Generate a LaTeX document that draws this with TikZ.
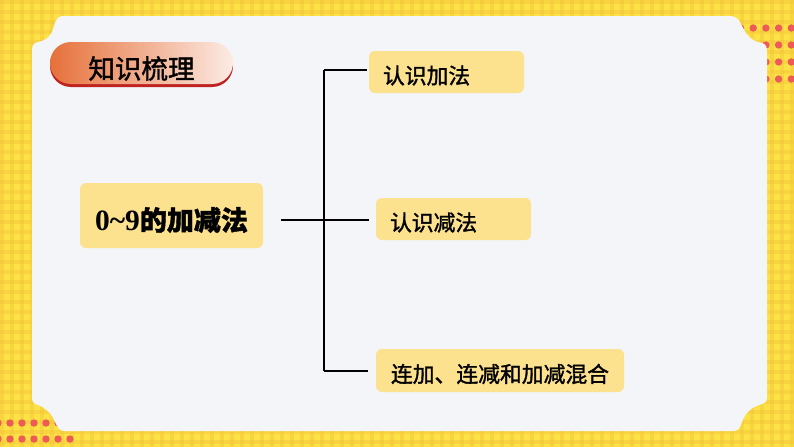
\documentclass[tikz,border=0pt]{standalone}
\usepackage{fontspec}
\newfontfamily\cjk{Noto Sans CJK SC}
\newfontfamily\cjkb{Noto Sans CJK SC}[FakeBold=1.5]
\newfontfamily\serifb{Liberation Serif}
\usetikzlibrary{calc}
\definecolor{bgyellow}{HTML}{FCE245}
\definecolor{bandyellow}{HTML}{F2C43A}
\definecolor{dotred}{HTML}{EE5A55}
\definecolor{panelgray}{HTML}{F4F5F8}
\definecolor{nodeyellow}{HTML}{FCE18F}
\definecolor{hdrorange}{HTML}{E6713A}
\definecolor{hdrlight}{HTML}{FCEBE4}
\definecolor{hdrshadow}{HTML}{BE2320}
\newcommand\dropt[2]{\raisebox{-#1}[\height][\depth]{#2}}
\tikzset{
  box/.style={fill=nodeyellow, rounded corners=6pt, inner sep=0pt, anchor=center},
  mainbox/.style={box, minimum width=183pt, minimum height=65pt},
  leftbox/.style={box, minimum height=42pt, text width=127pt, inner xsep=14pt, align=left},
  widebox/.style={box, minimum height=43pt, minimum width=248pt},
  hdrbox/.style={rounded corners=21pt, minimum width=183pt, minimum height=42pt, inner sep=0pt,
    left color=hdrorange, right color=hdrlight,
    preaction={fill=hdrshadow, transform canvas={yshift=-3pt}}},
  conn/.style={draw=black, line width=1.6pt},
  reddot/.style={fill=dotred},
}
\begin{document}
\begin{tikzpicture}[x=1pt,y=-1pt]
\useasboundingbox (0,0) rectangle (794,447);
% background
\fill[bgyellow] (0,0) rectangle (794,447);
\foreach \i in {0,10,...,790} {
  \fill[bandyellow, opacity=0.45] (\i,0) rectangle ++(4,447);
}
\foreach \j in {0,10,...,440} {
  \fill[bandyellow, opacity=0.45] (0,\j) rectangle ++(794,4);
}
% red dots
\foreach \x in {715.1,727.8,740.5,753.2,765.9,778.6,791.3} {
  \foreach \y in {28,45,62,79} {
    \fill[reddot] (\x,\y) circle (3.7pt);
  }
}
\foreach \x in {-2,10,22,34,46,58,70} {
  \foreach \y in {423,439} {
    \fill[reddot] (\x,\y) circle (3.7pt);
  }
}
% panel
\fill[panelgray] (62,16) -- (730,16)
  .. controls (740,16) and (741,26) .. (746,33)
  .. controls (751,40) and (756,42) .. (762,43)
  .. controls (766,44) and (767,47) .. (767,52)
  -- (767,398)
  .. controls (767,402) and (764,404) .. (759,405)
  .. controls (750,408) and (745,414) .. (742,422)
  .. controls (740,428) and (738,431) .. (734,431)
  -- (64,431)
  .. controls (60,431) and (58,428) .. (55,422)
  .. controls (52,414) and (46,408) .. (38,405)
  .. controls (34,404) and (32,402) .. (32,398)
  -- (32,50)
  .. controls (32,45) and (34,43) .. (38,42)
  .. controls (44,41) and (49,38) .. (52,32)
  .. controls (55,24) and (56,16) .. (62,16) -- cycle;
% header
\node[hdrbox] (hdr) at (141.5,63) {\dropt{5.5pt}{\cjkb\fontsize{26.5}{30}\selectfont 知识梳理}};
% nodes
\node[mainbox] (main) at (171.5,215.5) {\dropt{4.5pt}{\serifb\bfseries\fontsize{29.5}{32}\selectfont 0\textasciitilde 9\cjkb\fontsize{27}{30}\selectfont 的加减法}};
\node[leftbox] (n1) at (446.5,72) {\dropt{3.5pt}{\cjkb\fontsize{21.8}{25}\selectfont 认识加法}};
\node[leftbox] (n2) at (453.5,219) {\dropt{3.5pt}{\cjkb\fontsize{21.8}{25}\selectfont 认识减法}};
\node[widebox] (n3) at (500,370.5) {\dropt{3.5pt}{\cjkb\fontsize{21.8}{25}\selectfont 连加、连减和加减混合}};
% connectors
\coordinate (t1) at (324,70);
\coordinate (t2) at (324,220);
\coordinate (t3) at (324,371);
\draw[conn] (t1) -- (t3);
\draw[conn, shorten <=18pt] (main.east |- t2) -- (t2);
\draw[conn, shorten >=2pt] (t1) -- (t1 -| n1.west);
\draw[conn, shorten >=7pt] (t2) -- (t2 -| n2.west);
\draw[conn, shorten >=8pt] (t3) -- (t3 -| n3.west);
\end{tikzpicture}
\end{document}
